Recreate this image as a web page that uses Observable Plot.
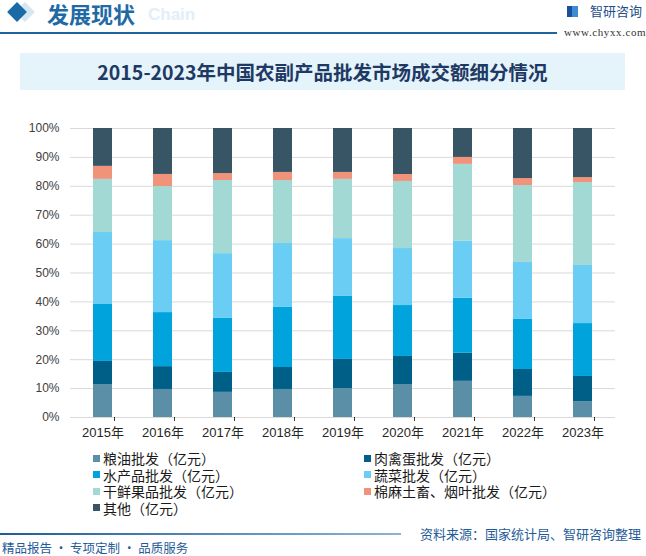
<!DOCTYPE html>
<html><head><meta charset="utf-8">
<script src="https://cdn.jsdelivr.net/npm/d3@7"></script>
<script src="https://cdn.jsdelivr.net/npm/@observablehq/plot@0.6"></script>
<style>
body{margin:0;width:646px;height:556px;position:relative;overflow:hidden;background:#fff;font-family:"Noto Sans CJK SC","Noto Sans",sans-serif;}
.abs{position:absolute;white-space:nowrap;}
#legend{position:absolute;left:93px;top:450px;display:grid;grid-template-columns:271px auto;font-size:14px;line-height:16.5px;color:#1a1a1a;}
#legend .item{display:flex;align-items:center;height:16.5px;}
#legend .sw{width:7px;height:7px;margin-right:3px;flex:none;}
#legend .lb{display:inline-block;height:16.5px;line-height:16.5px;overflow:visible;}
</style></head><body>
<!-- header -->
<div class="abs" style="left:8px;top:5px;width:14px;height:14px;background:#D6E7F4;transform:translate(10px,0) rotate(45deg);"></div>
<div class="abs" style="left:10px;top:5px;width:14px;height:14px;background:#1A6AA8;transform:rotate(45deg);"></div>
<div class="abs" style="left:148px;top:6px;font:bold 17px 'Liberation Sans',Arial,sans-serif;color:#E2EEF8;line-height:18px;">Chain</div>
<div class="abs" style="left:47px;top:1px;font-size:22px;font-weight:bold;color:#1F6AA5;line-height:24px;">发展现状</div>
<div class="abs" style="left:0;top:32px;width:557px;height:2px;background:#1A64A0;"></div>
<div class="abs" style="left:567px;top:6px;width:11px;height:11px;background:linear-gradient(90deg,#1B4F9C 50%,#3D8BD0 50%);"></div>
<div class="abs" style="left:590px;top:2px;font-size:13px;color:#1F4E89;line-height:18px;">智研咨询</div>
<div class="abs" style="left:564px;top:25px;font:11px 'Liberation Serif','DejaVu Serif',serif;color:#333;letter-spacing:0.6px;line-height:14px;">www.chyxx.com</div>
<!-- title -->
<div class="abs" style="left:20px;top:53px;width:605px;height:37px;background:#E5F3FB;text-align:center;line-height:37px;font-size:19.5px;font-weight:bold;color:#1E3A64;">2015-2023年中国农副产品批发市场成交额细分情况</div>
<div id="chart" class="abs" style="left:0;top:110px;"></div>
<div id="legend"></div>
<!-- footer -->
<div class="abs" style="left:0;top:533px;width:401px;height:2px;background:linear-gradient(90deg,#1B5E96,#8AB4D6);"></div>
<div class="abs" style="left:420px;top:525px;font-size:13px;color:#1F5C99;line-height:18px;">资料来源：国家统计局、智研咨询整理</div>
<div class="abs" style="left:2px;top:539px;font-size:12.5px;color:#1F5C99;line-height:18px;">精品报告 · 专项定制 · 品质服务</div>
<script>
const years = ["2015年","2016年","2017年","2018年","2019年","2020年","2021年","2022年","2023年"];
const series = ["粮油批发（亿元）","肉禽蛋批发（亿元）","水产品批发（亿元）","蔬菜批发（亿元）","干鲜果品批发（亿元）","棉麻土畜、烟叶批发（亿元）","其他（亿元）"];
const colors = ["#5B8FA8","#005F86","#00A3DB","#6ACDF4","#A3D9D5","#F0937A","#375564"];
// shares (%)
const grain   = [11.4, 9.7, 8.7, 9.7, 10.0, 11.4, 12.5, 7.3, 5.5];
const meat    = [8.0, 7.9, 6.9, 7.6, 10.1, 9.7, 9.7, 9.3, 8.7];
const aquatic = [19.7, 18.7, 18.7, 20.8, 21.8, 17.6, 19.0, 17.3, 18.3];
const veg     = [24.9, 24.9, 22.4, 22.1, 20.0, 19.7, 19.7, 19.7, 20.1];
const fruit   = [18.4, 18.7, 25.3, 21.8, 20.5, 23.2, 26.6, 26.6, 28.7];
const cotton  = [4.5, 4.2, 2.4, 2.8, 2.4, 2.4, 2.4, 2.4, 1.7];
const other   = [13.1, 15.9, 15.6, 15.2, 15.2, 15.9, 10.0, 17.3, 17.0];

const valueArrays = [grain, meat, aquatic, veg, fruit, cotton, other];
const rows = [];
series.forEach((s, i) => years.forEach((y, j) => rows.push({year: y, series: s, value: valueArrays[i][j]})));

const chart = Plot.plot({
  width: 646, height: 337,
  marginLeft: 70, marginRight: 31, marginTop: 18, marginBottom: 30,
  style: {fontFamily: "'Liberation Sans', Arial, 'Noto Sans CJK SC', sans-serif", fontSize: "12px", color: "#404040", background: "transparent"},
  x: {domain: years, paddingInner: 0.686, paddingOuter: 0.343, label: null},
  y: {domain: [0, 1], label: null},
  color: {domain: series, range: colors},
  marks: [
    Plot.gridY({ticks: 10, stroke: "#d9d9d9", strokeOpacity: 1}),
    Plot.axisY({ticks: 10, tickSize: 0, tickPadding: 11, tickFormat: d3.format(".0%"), label: null}),
    Plot.barY(rows, Plot.stackY({offset: "normalize", x: "year", y: "value", fill: "series"})),
    Plot.axisX({tickSize: 0, tickPadding: 10, fontSize: 13, fill: "#262626", fontFamily: "'Liberation Sans', Arial, 'Noto Sans CJK SC', sans-serif", label: null}),
    Plot.axisX({tickSize: 4, tickFormat: () => "", dx: 11.5, stroke: "#333", label: null})
  ]
});
document.getElementById("chart").appendChild(chart);

const legend = document.getElementById("legend");
series.forEach((s, i) => {
  const it = document.createElement("div");
  it.className = "item";
  it.innerHTML = `<span class="sw" style="background:${colors[i]}"></span><span class="lb">${s}</span>`;
  legend.appendChild(it);
});
</script>
</body></html>
